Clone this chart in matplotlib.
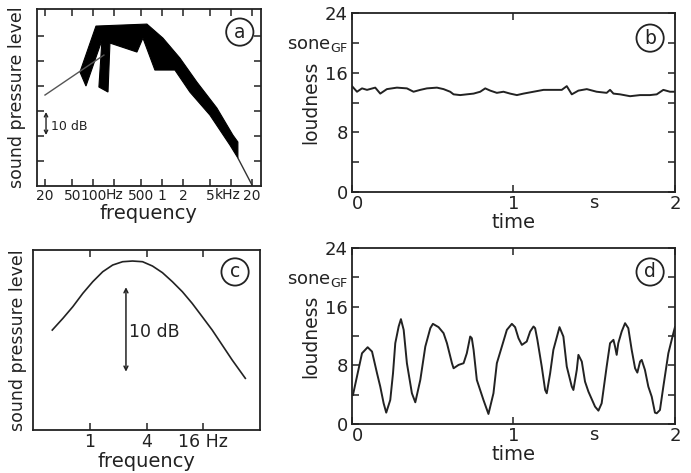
import numpy as np
import matplotlib
matplotlib.use("Agg")
import matplotlib.pyplot as plt
from matplotlib.patches import Polygon
import matplotlib.transforms as mtrans

plt.rcParams['font.family'] = ['DejaVu Sans']
plt.rcParams['font.size'] = 12.5

ink = '#222222'

# (a) spectrum of the sound, black band = level range
band_f = [64.3, 109.7, 601, 1026, 1810, 3190, 6220, 10600, 12540, 12540,
          9600, 4920, 2523, 1531, 785, 526, 431, 175, 164, 121, 134, 78.6]
band_db = [45.6, 64.0, 64.8, 59.2, 51.2, 41.6, 31.2, 20.4, 17.6, 11.2,
           16.4, 28.4, 37.6, 46.4, 46.4, 59.2, 53.6, 57.2, 37.6, 39.6, 58.4, 40.0]
low_line_f = [20, 143]
low_line_db = [36.4, 52.4]
high_line_f = [12540, 20000]
high_line_db = [11.2, 0.5]
a_ticks = [20, 50, 100, 500, 1000, 2000, 5000, 20000]
a_ticklabels = ['20', '50', '100', '500', '1', '2', '5', '20']
a_minor = [200, 10000]

# (b) loudness over time, steady
b_t = [0.0, 0.031, 0.062, 0.093, 0.144, 0.175, 0.216, 0.278, 0.340, 0.381,
       0.423, 0.464, 0.526, 0.567, 0.608, 0.629, 0.670, 0.711, 0.753, 0.794,
       0.825, 0.856, 0.897, 0.938, 0.979, 1.021, 1.062, 1.124, 1.186, 1.247,
       1.299, 1.330, 1.361, 1.402, 1.454, 1.515, 1.577, 1.598, 1.619, 1.660,
       1.722, 1.784, 1.845, 1.887, 1.928, 1.969, 2.0]
b_n = [14.2, 13.45, 13.9, 13.7, 14.0, 13.2, 13.8, 14.0, 13.9, 13.45,
       13.7, 13.9, 14.0, 13.8, 13.45, 13.1, 13.0, 13.1, 13.2, 13.45,
       13.9, 13.6, 13.3, 13.45, 13.2, 13.0, 13.2, 13.45, 13.7, 13.7,
       13.7, 14.2, 13.1, 13.6, 13.8, 13.45, 13.3, 13.7, 13.2, 13.1,
       12.85, 13.0, 13.0, 13.1, 13.7, 13.45, 13.45]

# (c) spectrum of the modulation
c_f = [0.40, 0.519, 0.661, 0.844, 1.076, 1.372, 1.75, 2.23, 2.84, 3.63,
       4.63, 5.90, 7.52, 9.60, 12.2, 15.6, 19.9, 25.4, 32.4, 44.7]
c_db = [11.76, 13.14, 14.51, 16.08, 17.45, 18.62, 19.41, 19.80, 19.88, 19.80,
        19.29, 18.51, 17.45, 16.27, 14.9, 13.33, 11.76, 10.0, 8.24, 6.08]
c_ticks = [1, 4, 16]
c_ticklabels = ['1', '4', '16 Hz']

# (d) loudness over time, fluctuating
d_t = [0.006, 0.062, 0.097, 0.124, 0.155, 0.175, 0.196, 0.212, 0.237, 0.254,
       0.268, 0.289, 0.303, 0.320, 0.340, 0.371, 0.392, 0.423, 0.454, 0.485,
       0.501, 0.536, 0.567, 0.588, 0.619, 0.629, 0.660, 0.691, 0.711, 0.732,
       0.742, 0.753, 0.773, 0.814, 0.845, 0.876, 0.897, 0.928, 0.959, 0.990,
       1.010, 1.031, 1.052, 1.082, 1.103, 1.124, 1.134, 1.148, 1.175, 1.196,
       1.206, 1.227, 1.247, 1.285, 1.309, 1.330, 1.361, 1.371, 1.392, 1.402,
       1.423, 1.443, 1.464, 1.505, 1.526, 1.546, 1.577, 1.598, 1.619, 1.629,
       1.639, 1.649, 1.670, 1.691, 1.711, 1.732, 1.753, 1.767, 1.784, 1.794,
       1.814, 1.835, 1.856, 1.876, 1.887, 1.907, 1.928, 1.959, 1.990, 2.0]
d_n = [3.96, 9.65, 10.47, 9.88, 6.92, 5.10, 2.82, 1.55, 3.28, 6.92,
       11.02, 13.30, 14.30, 12.84, 8.29, 4.19, 2.96, 6.01, 10.56, 13.07,
       13.66, 13.21, 12.39, 11.02, 8.29, 7.60, 8.06, 8.29, 9.65, 11.93,
       11.70, 10.11, 6.01, 3.28, 1.37, 4.19, 8.29, 10.56, 12.84, 13.66,
       13.21, 11.70, 10.79, 11.25, 12.61, 13.30, 13.07, 11.48, 7.83, 4.64,
       4.19, 6.92, 10.11, 13.21, 11.93, 7.83, 5.10, 4.64, 7.38, 9.43,
       8.52, 5.78, 4.42, 2.37, 1.82, 2.82, 7.83, 11.02, 11.48, 10.56,
       9.43, 11.02, 12.61, 13.75, 13.07, 10.11, 7.60, 7.01, 8.52, 8.74,
       7.38, 5.10, 3.73, 1.55, 1.46, 1.91, 5.10, 9.65, 12.39, 13.21]

loud_ticks = [0, 4, 8, 12, 16, 20, 24]
loud_labels = ['0', '', '8', '', '16', r'sone$_{\rm GF}$', '24']
time_ticks = [0, 1, 2]


def frame(ax):
    for s in ax.spines.values():
        s.set_color(ink)
        s.set_linewidth(1.3)
    ax.tick_params(direction='in', top=True, right=True, length=5,
                   width=1.1, color=ink, labelcolor=ink, pad=2)
    ax.tick_params(which='minor', direction='in', top=True, right=True,
                   length=5, width=1.1, color=ink)


def circ(ax, x, y, s):
    ax.text(x, y, s, transform=ax.transAxes, ha='center', va='center',
            fontsize=13.5, color=ink,
            bbox=dict(boxstyle='circle,pad=0.22', fc='white', ec=ink, lw=1.3))


fig = plt.figure(figsize=(6.91, 4.73), dpi=100)
ax_a = fig.add_axes([0.0535, 0.6068, 0.324, 0.374])
ax_b = fig.add_axes([0.5094, 0.594, 0.4674, 0.3784])
ax_c = fig.add_axes([0.0478, 0.0909, 0.3285, 0.3806])
ax_d = fig.add_axes([0.5094, 0.1036, 0.4674, 0.372])

# ---- (a)
ax_a.set_xscale('log')
ax_a.set_xlim(15.3, 27000)
ax_a.set_ylim(0, 70.8)
ax_a.add_patch(Polygon(np.column_stack([band_f, band_db]), closed=True,
                       fc='black', ec='black', lw=0.8))
ax_a.plot(low_line_f, low_line_db, color='#555555', lw=1.0)
ax_a.plot(high_line_f, high_line_db, color='#333333', lw=1.0)
ax_a.set_xticks(a_ticks)
ax_a.set_xticklabels(a_ticklabels, fontsize=10)
ax_a.set_xticks(a_minor, minor=True)
ax_a.xaxis.set_minor_formatter(plt.NullFormatter())
ax_a.set_yticks([10, 20, 30, 40, 50, 60])
ax_a.set_yticklabels([])
frame(ax_a)
tr = mtrans.blended_transform_factory(ax_a.transData, ax_a.transAxes)
# unit text right after the "100" and "5" tick labels
hz_off = mtrans.ScaledTranslation(9.3 / 72, 0, fig.dpi_scale_trans)
khz_off = mtrans.ScaledTranslation(3.0 / 72, 0, fig.dpi_scale_trans)
ax_a.text(100, -0.0115, 'Hz', transform=tr + hz_off, ha='left', va='top',
          fontsize=10, color=ink)
ax_a.text(5000, -0.0115, 'kHz', transform=tr + khz_off, ha='left', va='top',
          fontsize=10, color=ink)
ax_a.set_xlabel('frequency', labelpad=1, fontsize=14, color=ink)
ax_a.set_ylabel('sound pressure level', labelpad=6, color=ink)
ax_a.annotate('', xy=(20.7, 20.4), xytext=(20.7, 29.6),
              arrowprops=dict(arrowstyle='<->', color=ink, lw=1.0,
                              mutation_scale=6, shrinkA=0, shrinkB=0))
ax_a.text(24.5, 23.8, '10 dB', fontsize=9, va='center', ha='left', color=ink)
circ(ax_a, 0.906, 0.87, 'a')

# ---- (b) and (d)
for ax, t, n, lab, cy in [(ax_b, b_t, b_n, 'b', 0.86), (ax_d, d_t, d_n, 'd', 0.864)]:
    ax.plot(t, n, color=ink, lw=1.4)
    ax.set_xlim(0, 2)
    ax.set_ylim(0, 24)
    ax.set_xticks(time_ticks)
    ax.set_yticks(loud_ticks)
    ax.set_yticklabels(loud_labels, fontsize=13)
    frame(ax)
    ax.tick_params(axis='y', pad=3)
    ax.tick_params(axis='x', labelsize=13)
    # x "0" sits just right of the y "0", as in the print
    x0 = ax.get_xticklabels()[0]
    x0.set_transform(x0.get_transform()
                     + mtrans.ScaledTranslation(4 / 72, 0, fig.dpi_scale_trans))
    trb = mtrans.blended_transform_factory(ax.transData, ax.transAxes)
    ax.text(1.5, -0.012, 's', transform=trb, ha='center', va='top',
            fontsize=13, color=ink)
    ax.set_xlabel('time', labelpad=0, fontsize=14, color=ink)
    ax.set_ylabel('loudness', fontsize=13.5, color=ink)
    ax.yaxis.set_label_coords(-0.099, 0.5)
    circ(ax, 0.923, cy, lab)

# ---- (c)
ax_c.set_xscale('log')
ax_c.set_xlim(0.25, 64)
ax_c.set_ylim(0, 21.18)
ax_c.plot(c_f, c_db, color=ink, lw=1.2)
ax_c.set_xticks(c_ticks)
ax_c.set_xticklabels(c_ticklabels)
ax_c.xaxis.set_minor_locator(plt.NullLocator())
ax_c.set_yticks([])
frame(ax_c)
ax_c.annotate('', xy=(2.42, 6.86), xytext=(2.42, 16.8),
              arrowprops=dict(arrowstyle='<->', color=ink, lw=1.1,
                              mutation_scale=7, shrinkA=0, shrinkB=0))
ax_c.text(2.62, 11.56, '10 dB', va='center', ha='left', color=ink)
ax_c.set_xlabel('frequency', labelpad=1, fontsize=14, color=ink)
ax_c.set_ylabel('sound pressure level', labelpad=4, color=ink)
circ(ax_c, 0.89, 0.878, 'c')

fig.savefig('out.png', dpi=100)
